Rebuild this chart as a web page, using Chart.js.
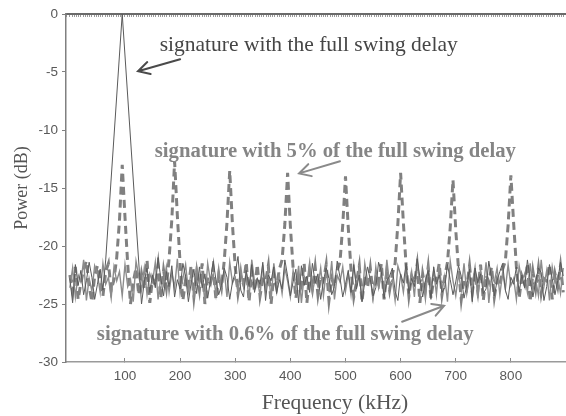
<!DOCTYPE html>
<html>
<head>
<meta charset="utf-8">
<script src="https://cdn.jsdelivr.net/npm/chart.js@4.4.0/dist/chart.umd.min.js"></script>
<style>
	html, body { margin: 0; padding: 0; background: #fff; overflow: hidden; }
</style>
</head>
<body>
<canvas id="spectrum" width="566" height="416"></canvas>
<script>
// frequency grid (kHz)
var freq = [
	0,5,10,15,20,25,30,35,40,45,50,55,60,65,70,75,80,85,90,95,
	100,105,110,115,120,125,130,135,140,145,150,155,160,165,170,175,180,185,190,195,
	200,205,210,215,220,225,230,235,240,245,250,255,260,265,270,275,280,285,290,295,
	300,305,310,315,320,325,330,335,340,345,350,355,360,365,370,375,380,385,390,395,
	400,405,410,415,420,425,430,435,440,445,450,455,460,465,470,475,480,485,490,495,
	500,505,510,515,520,525,530,535,540,545,550,555,560,565,570,575,580,585,590,595,
	600,605,610,615,620,625,630,635,640,645,650,655,660,665,670,675,680,685,690,695,
	700,705,710,715,720,725,730,735,740,745,750,755,760,765,770,775,780,785,790,795,
	800,805,810,815,820,825,830,835,840,845,850,855,860,865,870,875,880,885,890,895
];

// signature with the full swing delay (dB)
var fullSwing = [
	-22.8,-24.9,-21.6,-23.4,-22.1,-24.2,-23.0,-21.4,-22.7,-24.6,-23.3,-22.0,-23.8,-21.2,null,null,null,null,null,0,
	null,null,null,null,null,null,-25.0,-23.1,-21.9,-24.0,-22.5,-23.6,-21.0,-22.8,-24.3,-22.2,-23.5,-21.7,-24.4,-22.9,
	-23.7,-21.5,-22.6,-24.8,-23.2,-22.0,-24.1,-21.8,-23.6,-22.4,-24.5,-23.0,-21.3,-22.9,-24.2,-23.4,-21.9,-22.7,-24.6,-23.1,
	-22.3,-20.9,-23.8,-24.4,-22.1,-23.5,-21.6,-24.0,-22.8,-23.3,-21.4,-24.7,-22.5,-23.0,-21.8,-24.1,-22.9,-23.7,-21.2,-22.6,
	-24.3,-23.1,-22.0,-24.9,-21.7,-23.4,-22.6,-24.0,-21.5,-23.2,-22.4,-24.6,-23.0,-21.9,-22.8,-24.2,-23.5,-21.3,-22.7,-24.4,
	-23.3,-22.1,-24.0,-21.6,-23.7,-22.5,-24.8,-23.1,-21.8,-22.9,-24.3,-23.6,-21.4,-22.2,-24.5,-23.0,-22.6,-21.9,-23.9,-24.7,
	-22.4,-23.2,-21.5,-24.1,-22.8,-23.5,-21.1,-22.7,-24.4,-23.0,-22.1,-24.6,-21.8,-23.3,-22.5,-24.0,-23.6,-21.6,-22.9,-24.2,
	-23.1,-21.7,-22.6,-24.5,-23.4,-22.0,-24.8,-21.9,-23.2,-22.4,-24.1,-23.7,-21.3,-22.8,-24.3,-23.0,-22.2,-21.5,-23.8,-24.6,
	-22.7,-23.3,-21.8,-24.0,-22.5,-23.6,-21.2,-22.9,-24.4,-23.1,-21.9,-22.3,-24.7,-23.5,-21.6,-22.8,-24.2,-23.0,-21.4,-22.6
];

// signature with 5% of the full swing delay (dB)
var fivePct = [
	-22.5,-23.9,-21.8,-24.6,-23.2,-22.0,-21.3,-23.5,-24.8,-22.6,-21.7,-23.0,-24.3,-22.2,-21.5,-23.8,-22.9,-21.0,-17.8,-13.0,
	-17.5,-21.6,-25.0,-23.1,-21.9,-24.2,-22.4,-23.7,-21.2,-24.9,-22.8,-23.4,-21.6,-24.5,-22.1,-23.6,-21.1,-17.7,-12.7,-17.4,
	-21.5,-24.7,-22.9,-23.5,-21.7,-24.4,-22.3,-23.8,-21.5,-25.0,-22.7,-23.2,-21.9,-24.6,-22.5,-23.6,-21.3,-18.0,-13.5,-18.2,
	-21.8,-24.1,-22.6,-23.3,-21.4,-24.8,-22.2,-23.9,-21.6,-24.3,-22.9,-23.1,-21.7,-25.0,-22.4,-23.6,-22.0,-21.2,-18.1,-13.7,
	-18.3,-21.9,-24.5,-22.7,-23.4,-21.5,-24.9,-22.3,-23.7,-21.8,-24.2,-22.6,-23.0,-21.6,-24.7,-22.8,-23.5,-22.1,-21.4,-18.2,
	-14.0,-18.4,-22.0,-24.4,-23.1,-21.7,-24.8,-22.5,-23.6,-21.9,-24.1,-22.8,-23.3,-21.5,-24.6,-22.2,-23.8,-22.4,-21.5,-18.1,
	-13.7,-18.0,-21.7,-24.3,-22.6,-23.2,-21.6,-24.9,-22.4,-23.7,-21.8,-24.5,-22.9,-23.0,-21.5,-24.2,-22.7,-21.4,-18.4,-14.3,
	-18.6,-22.0,-24.6,-22.8,-23.5,-21.7,-24.0,-22.3,-23.9,-21.6,-24.7,-22.5,-23.1,-21.8,-24.4,-22.9,-23.4,-22.0,-21.3,-18.2,
	-13.9,-18.0,-21.8,-24.5,-22.6,-23.3,-21.5,-24.8,-22.2,-23.7,-21.9,-24.1,-22.8,-23.0,-21.6,-24.6,-22.4,-23.5,-21.7,-24.0
];

// signature with 0.6% of the full swing delay (dB)
var pointSixPct = [
	-23.6,-21.9,-24.4,-22.5,-23.1,-21.2,-24.7,-22.8,-23.9,-21.7,-22.4,-24.0,-21.5,-23.3,-22.7,-24.5,-21.8,-23.0,-22.2,-24.3,
	-21.6,-23.5,-22.9,-24.8,-21.3,-22.6,-23.8,-21.9,-24.2,-22.4,-23.1,-21.4,-24.6,-22.7,-23.4,-21.8,-24.0,-22.3,-23.6,-21.1,
	-24.1,-22.8,-21.6,-23.9,-22.2,-24.5,-21.7,-23.3,-22.6,-24.8,-21.5,-23.0,-22.4,-24.2,-21.9,-23.7,-22.1,-24.4,-21.4,-23.2,
	-22.7,-24.0,-21.8,-23.5,-22.3,-24.6,-21.2,-23.1,-22.8,-24.3,-21.6,-23.8,-22.0,-24.7,-21.5,-23.4,-22.5,-24.1,-21.9,-23.0,
	-24.4,-22.1,-23.6,-21.7,-24.9,-22.6,-23.2,-21.4,-24.0,-22.8,-23.5,-21.9,-24.3,-22.2,-23.7,-21.3,-24.6,-22.5,-23.1,-21.8,
	-23.9,-22.4,-24.2,-21.6,-23.4,-22.0,-24.8,-21.5,-23.0,-22.7,-24.5,-21.8,-23.6,-22.3,-24.1,-21.2,-23.3,-22.9,-24.7,-21.7,
	-22.5,-24.0,-21.9,-23.7,-22.2,-24.4,-21.4,-23.2,-22.8,-24.6,-21.7,-23.5,-22.1,-24.2,-21.6,-23.9,-22.6,-24.8,-21.3,-23.0,
	-24.3,-22.4,-23.8,-21.5,-24.1,-22.7,-23.3,-21.8,-24.5,-22.0,-23.6,-21.4,-24.9,-22.6,-23.1,-21.9,-24.2,-22.3,-23.7,-21.6,
	-23.4,-22.8,-24.6,-21.7,-23.0,-22.4,-24.0,-21.5,-23.8,-22.9,-24.3,-21.2,-23.5,-22.1,-24.7,-21.8,-23.2,-22.6,-24.1,-21.9
];

var xTicks = [100, 200, 300, 400, 500, 600, 700, 800];

// callouts: text anchored at data coords, arrows from tail to head
var notes = [
	{ text: 'signature with the full swing delay', x: 163, y: -3.2, font: '21.5px "Liberation Serif"', color: '#454545' },
	{ text: 'signature with 5% of the full swing delay', x: 154, y: -12.3, font: 'bold 20.7px "Liberation Serif"', color: '#858585' },
	{ text: 'signature with 0.6% of the full swing delay', x: 49, y: -28.1, font: 'bold 20.7px "Liberation Serif"', color: '#858585' }
];
var arrows = [
	{ from: [200, -3.9], to: [123.6, -4.93], color: '#4a4a4a' },
	{ from: [490, -12.7], to: [415.8, -13.74], color: '#8a8a8a' },
	{ from: [602.7, -26.53], to: [678.9, -25.15], color: '#8a8a8a' }
];

function pts(vals) {
	return freq.map(function(f, i) { return { x: f, y: vals[i] }; });
}

var calloutPlugin = {
	id: 'callouts',
	afterDatasetsDraw: function(chart) {
		var ctx = chart.ctx, xs = chart.scales.x, ys = chart.scales.y;
		ctx.save();
		notes.forEach(function(n) {
			ctx.font = n.font;
			ctx.fillStyle = n.color;
			ctx.textAlign = 'left';
			ctx.textBaseline = 'alphabetic';
			ctx.fillText(n.text, xs.getPixelForValue(n.x), ys.getPixelForValue(n.y));
		});
		arrows.forEach(function(a) {
			var x1 = xs.getPixelForValue(a.from[0]), y1 = ys.getPixelForValue(a.from[1]);
			var x2 = xs.getPixelForValue(a.to[0]), y2 = ys.getPixelForValue(a.to[1]);
			var ang = Math.atan2(y2 - y1, x2 - x1), len = 13, spread = 0.5;
			ctx.strokeStyle = a.color;
			ctx.lineWidth = 2;
			ctx.lineCap = 'round';
			ctx.beginPath();
			ctx.moveTo(x1, y1);
			ctx.lineTo(x2, y2);
			ctx.moveTo(x2 - len * Math.cos(ang - spread), y2 - len * Math.sin(ang - spread));
			ctx.lineTo(x2, y2);
			ctx.lineTo(x2 - len * Math.cos(ang + spread), y2 - len * Math.sin(ang + spread));
			ctx.stroke();
		});
		ctx.restore();
	},
	afterDraw: function(chart) {
		var ctx = chart.ctx;
		ctx.save();
		ctx.font = '21.5px "Liberation Serif"';
		ctx.fillStyle = '#555';
		ctx.textAlign = 'center';
		ctx.textBaseline = 'alphabetic';
		ctx.fillText('Frequency (kHz)', 335, 409);
		ctx.restore();
	}
};

var spectrumChart = new Chart('spectrum', {
	type: 'line',
	data: {
		datasets: [{
			label: 'full swing',
			data: pts(fullSwing),
			borderColor: '#5a5a5a',
			borderWidth: 1,
			spanGaps: true
		}, {
			label: '0.6%',
			data: pts(pointSixPct),
			borderColor: '#8c8c8c',
			borderWidth: 1.4
		}, {
			label: '5%',
			data: pts(fivePct),
			borderColor: '#808080',
			borderWidth: 3,
			borderDash: [8, 5]
		}]
	},
	options: {
		responsive: false,
		animation: false,
		layout: { padding: 0 },
		elements: { point: { radius: 0 }, line: { tension: 0 } },
		plugins: { legend: { display: false }, tooltip: { enabled: false } },
		scales: {
			x: {
				type: 'linear',
				position: 'bottom',
				min: -7,
				max: 900,
				afterBuildTicks: function(scale) {
					scale.ticks = xTicks.map(function(v) { return { value: v }; });
				},
				afterFit: function(scale) { scale.height = 54; },
				ticks: {
					autoSkip: false,
					maxRotation: 0,
					padding: 10,
					color: '#595959',
					font: { family: '"Liberation Sans"', size: 13.5 }
				},
				grid: { drawOnChartArea: false, tickLength: -4, color: '#8a8a8a', lineWidth: 1 },
				border: { color: '#9a9a9a', width: 1.5 }
			},
			xTop: {
				type: 'linear',
				position: 'top',
				min: -7,
				max: 900,
				afterFit: function(scale) { scale.height = 14; },
				ticks: { display: false, stepSize: 4 },
				grid: { drawOnChartArea: false, tickLength: -3, color: '#9a9a9a', lineWidth: 1 },
				border: { color: '#6a6a6a', width: 2 }
			},
			y: {
				min: -30,
				max: 0,
				afterFit: function(scale) { scale.width = 66; },
				ticks: {
					stepSize: 5,
					padding: 4,
					color: '#595959',
					font: { family: '"Liberation Sans"', size: 13.5 }
				},
				grid: { drawOnChartArea: false, tickLength: 4, color: '#808080' },
				border: { color: '#808080', width: 1.5 },
				title: {
					display: true,
					text: 'Power (dB)',
					color: '#555',
					font: { family: '"Liberation Serif"', size: 18 },
					padding: { top: 11, bottom: 0 }
				}
			}
		}
	},
	plugins: [calloutPlugin]
});
</script>
</body>
</html>
